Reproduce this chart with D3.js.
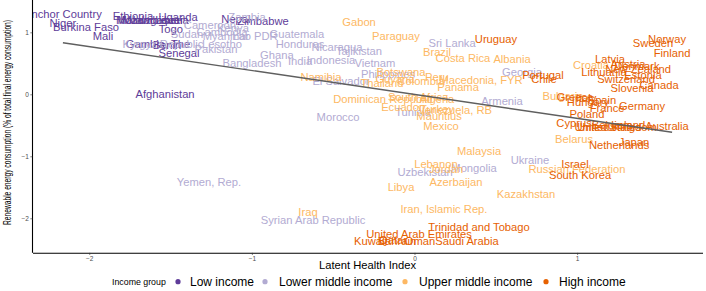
<!DOCTYPE html>
<html><head><meta charset="utf-8">
<script src="https://cdn.jsdelivr.net/npm/d3@7"></script>
<style>body{margin:0;background:#fff}svg{display:block}</style>
</head><body>
<svg id="c" width="706" height="291"></svg>
<script>
const groups = ["Low income","Lower middle income","Upper middle income","High income"];
const groupColors = ["#5e3c99","#b2abd2","#fdb863","#e66101"];

const lowNames = ["Anchor Country","Niger","Burkina Faso","Mali","Ethiopia","Uganda","Malawi","Mozambique","Madagascar","Liberia","Togo","Gambia, The","Benin","Senegal","Nepal","Zimbabwe","Afghanistan"];
const lowX = [-2.162,-2.162,-2.020,-1.916,-1.731,-1.454,-1.719,-1.639,-1.608,-1.491,-1.498,-1.577,-1.522,-1.448,-1.098,-0.932,-1.534];
const lowY = [1.290,1.145,1.090,0.945,1.268,1.247,1.198,1.198,1.206,1.198,1.053,0.811,0.803,0.661,1.215,1.182,0.000];

const lmNames = ["Zambia","Cameroon","Kenya","Cambodia","Sudan","Myanmar","Lao PDR","Guatemala","Kyrgyz Republic","Lesotho","Pakistan","Bangladesh","Ghana","Honduras","Nicaragua","Tajikistan","India","Indonesia","Vietnam","Philippines","El Salvador","Morocco","Sri Lanka","Georgia","Armenia","Tunisia","Ukraine","Mongolia","Uzbekistan","Yemen, Rep.","Syrian Arab Republic"];
const lmX = [-1.030,-1.258,-1.116,-1.184,-1.399,-1.159,-0.981,-0.723,-1.547,-1.184,-1.221,-0.999,-0.846,-0.704,-0.477,-0.341,-0.704,-0.514,-0.243,-0.163,-0.452,-0.470,0.231,0.661,0.538,-0.009,0.710,0.366,0.065,-1.264,-0.624];
const lmY = [1.247,1.118,1.069,1.005,0.968,0.940,0.940,0.973,0.811,0.816,0.726,0.500,0.634,0.811,0.758,0.698,0.537,0.548,0.510,0.327,0.219,-0.361,0.832,0.360,-0.108,-0.285,-1.060,-1.189,-1.258,-1.410,-2.027];

const umNames = ["Gabon","Paraguay","Brazil","Costa Rica","Albania","Namibia","Botswana","Guyana","Thailand","Colombia","Peru","Macedonia, FYR","Panama","Dominican Republic","South Africa","Algeria","Ecuador","Turkey","Venezuela, RB","Mauritius","Mexico","Malaysia","Lebanon","Jordan","Azerbaijan","Libya","Kazakhstan","Iran, Islamic Rep.","Iraq","Belarus","Russian Federation","Bulgaria","Croatia"];
const umX = [-0.341,-0.114,0.138,0.298,0.600,-0.575,-0.083,-0.120,-0.200,0.040,0.138,0.409,0.268,-0.194,0.022,0.138,-0.077,0.138,0.249,0.151,0.163,0.397,0.132,0.194,0.255,-0.083,0.686,0.181,-0.655,0.981,0.999,0.913,1.085];
const umY = [1.171,0.945,0.677,0.581,0.574,0.279,0.360,0.247,0.177,0.215,0.274,0.226,0.123,-0.076,-0.039,-0.076,-0.210,-0.242,-0.253,-0.345,-0.506,-0.910,-1.124,-1.205,-1.410,-1.500,-1.613,-1.850,-1.894,-0.726,-1.205,-0.027,0.468];

const hiNames = ["Uruguay","Norway","Sweden","Finland","Latvia","Austria","Denmark","New Zealand","Lithuania","Estonia","Switzerland","Slovenia","Canada","Portugal","Chile","Germany","France","Greece","Italy","Spain","Hungary","Poland","Cyprus","United States","United Kingdom","Belgium","Ireland","Australia","Japan","Netherlands","Israel","South Korea","Trinidad and Tobago","United Arab Emirates","Kuwait","Bahrain","Qatar","Oman","Saudi Arabia"];
const hiX = [0.501,1.553,1.467,1.584,1.202,1.313,1.368,1.375,1.165,1.405,1.301,1.338,1.504,0.790,0.796,1.399,1.184,0.987,1.055,1.153,1.067,1.061,0.981,1.190,1.245,1.215,1.313,1.553,1.350,1.258,0.987,1.018,0.397,0.028,-0.268,-0.108,-0.132,0.034,0.323];
const hiY = [0.897,0.897,0.832,0.671,0.565,0.489,0.461,0.403,0.360,0.311,0.252,0.102,0.145,0.311,0.242,-0.189,-0.226,-0.044,-0.052,-0.084,-0.129,-0.318,-0.458,-0.527,-0.527,-0.487,-0.487,-0.506,-0.774,-0.818,-1.124,-1.306,-2.148,-2.261,-2.366,-2.366,-2.358,-2.366,-2.374];

const xTicks = [-2,-1,0,1];
const yTicks = [-2,-1,0,1];
const fitX = [-2.162, 1.584];
const fitY = [0.832, -0.613];

const xTitle = "Latent Health Index";
const yTitle = "Renewable energy consumption (% of total final energy consumption)";
const legendTitle = "Income group";

const FONT = "'Liberation Sans', Arial, Helvetica, sans-serif";
const svg = d3.select("#c");
const L = 32.5, R = 702.5, T = 3, B = 252.8;
const x = d3.scaleLinear().domain([-2.349, 1.771]).range([L, R]);
const y = d3.scaleLinear().domain([-2.557, 1.473]).range([B, T]);
const color = d3.scaleOrdinal().domain(groups).range(groupColors);

svg.append("defs").append("clipPath").attr("id","panel")
  .append("rect").attr("x",L).attr("y",0).attr("width",R-L).attr("height",B);

const rows = [];
[[lowNames,lowX,lowY,0],[lmNames,lmX,lmY,1],[umNames,umX,umY,2],[hiNames,hiX,hiY,3]].forEach(([n,xs,ys,g])=>{
  n.forEach((name,i)=>rows.push({name, x:xs[i], y:ys[i], g:groups[g]}));
});

const panel = svg.append("g").attr("clip-path","url(#panel)");
panel.selectAll("text.lab").data(rows).join("text")
  .attr("class","lab")
  .attr("x",d=>x(d.x)).attr("y",d=>y(d.y)).attr("dy","0.36em")
  .attr("text-anchor","middle")
  .attr("font-family",FONT).attr("font-size","11.2px")
  .attr("fill",d=>color(d.g))
  .text(d=>d.name);

panel.append("line")
  .attr("x1",x(fitX[0])).attr("y1",y(fitY[0]))
  .attr("x2",x(fitX[1])).attr("y2",y(fitY[1]))
  .attr("stroke","#5f5f5f").attr("stroke-width",1.4);

const fmt = d => d<0 ? "\u2212"+Math.abs(d) : String(d);
const gx = svg.append("g").attr("transform",`translate(0,${B})`)
  .call(d3.axisBottom(x).tickValues(xTicks).tickSize(2.2).tickSizeOuter(0).tickPadding(1).tickFormat(fmt));
const gy = svg.append("g").attr("transform",`translate(${L},0)`)
  .call(d3.axisLeft(y).tickValues(yTicks).tickSize(2.2).tickSizeOuter(0).tickPadding(1.5).tickFormat(fmt));
[gx,gy].forEach(g=>{
  g.select(".domain").attr("stroke","#000").attr("stroke-width",1.1);
  g.selectAll(".tick line").attr("stroke","#333").attr("stroke-width",0.6);
  g.selectAll(".tick text").attr("fill","#4d4d4d").attr("font-family",FONT).attr("font-size","6.5px");
});
gy.select(".domain").attr("d",`M0,0V${B}`);

svg.append("text").attr("x",(L+R)/2).attr("y",264.8).attr("dy","0.36em")
  .attr("text-anchor","middle").attr("font-family",FONT).attr("font-size","11.2px")
  .attr("fill","#000").text(xTitle);

svg.append("text").attr("transform","translate(7,122.5) rotate(-90)")
  .attr("dy","0.36em").attr("text-anchor","middle")
  .attr("font-family",FONT).attr("font-size","11px").attr("fill","#000")
  .attr("textLength",205).attr("lengthAdjust","spacingAndGlyphs")
  .text(yTitle);

const ly = 281.7;
const leg = svg.append("g");
leg.append("text").attr("x",112).attr("y",ly).attr("dy","0.36em")
  .attr("font-family",FONT).attr("font-size","8.8px").attr("fill","#000").text(legendTitle);
const dotX = [178,265,405,546];
const txtX = [190,279,419,559];
groups.forEach((g,i)=>{
  leg.append("circle").attr("cx",dotX[i]).attr("cy",ly).attr("r",2.6).attr("fill",color(g));
  leg.append("text").attr("x",txtX[i]).attr("y",ly).attr("dy","0.36em")
    .attr("font-family",FONT).attr("font-size","12px").attr("fill","#000").text(g);
});
</script>
</body></html>
